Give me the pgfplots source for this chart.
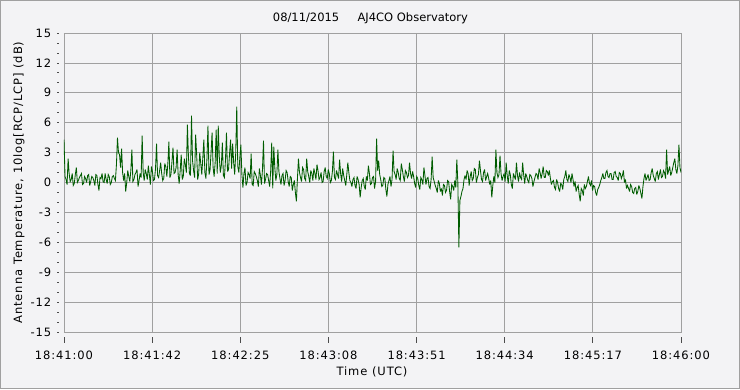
\documentclass[border=0pt]{standalone}
\usepackage{fontspec}
\setmainfont{DejaVu Sans}
\newfontfamily\lsfont{DejaVu Sans}[LetterSpace=8]
\usepackage{pgfplots}
\pgfplotsset{compat=1.18}
\definecolor{bg}{RGB}{243,243,245}
\definecolor{gridc}{RGB}{160,160,160}
\definecolor{dgreen}{RGB}{0,92,0}
\begin{document}
\begin{tikzpicture}
\useasboundingbox (0pt,0pt) rectangle (740pt,389pt);
\fill[bg] (0pt,0pt) rectangle (740pt,389pt);
\draw[gridc, line width=1pt] (0.5pt,0.5pt) rectangle (739.5pt,388.5pt);
\begin{axis}[
  at={(64pt,57pt)}, anchor=south west, scale only axis,
  width=617pt, height=299pt,
  xmin=0, xmax=300, ymin=-15, ymax=15,
  xtick={0,42.857,85.714,128.571,171.429,214.286,257.143,300},
  xticklabels={18:41:00,18:41:42,18:42:25,18:43:08,18:43:51,18:44:34,18:45:17,18:46:00},
  minor x tick num=5,
  ytick={-15,-12,-9,-6,-3,0,3,6,9,12,15},
  yticklabels={-15,-12,-9,-6,-3,0,3,6,9,12,15},
  minor y tick num=2,
  grid=major,
  major grid style={gridc, line width=0.8pt},
  axis line style={gridc, line width=0.8pt},
  xtick pos=left, ytick pos=left, tick align=outside,
  xtick style={black!70, line width=0.8pt, yshift=-5pt},
  ytick style={black!70, line width=0.8pt, xshift=-5pt},
  major x tick style={/pgfplots/major tick length=6pt},
  minor x tick style={/pgfplots/minor tick length=3pt},
  major y tick style={/pgfplots/major tick length=1.5pt},
  minor y tick style={/pgfplots/minor tick length=1.5pt},
  ticklabel style={font=\lsfont\fontsize{11.5}{13}\selectfont, text=black},
  xticklabel style={yshift=-11pt},
  yticklabel style={xshift=-5pt},
]
\addplot[dgreen, line width=0.85pt, mark=none, line join=miter, miter limit=4] table[row sep=\\] {
x y\\
0 4.3\\ 0.5 0.6\\ 1 0.3\\ 1.5 -0.2\\ 2 2.4\\ 2.5 0.9\\ 3 0.1\\ 3.5 0.3\\ 4 0.9\\ 4.5 -0.3\\
5 -0.1\\ 5.5 0.8\\ 6 1.5\\ 6.5 0.0\\ 7 0.2\\ 7.5 0.5\\ 8 0.7\\ 8.5 0.9\\ 9 -0.2\\ 9.5 -0.1\\
10 0.6\\ 10.5 0.4\\ 11 0.0\\ 11.5 0.7\\ 12 0.8\\ 12.5 -0.3\\ 13 0.1\\ 13.5 0.6\\ 14 0.5\\ 14.5 0.2\\
15 -0.3\\ 15.5 0.8\\ 16 0.7\\ 16.5 -0.2\\ 17 -0.8\\ 17.5 0.5\\ 18 0.4\\ 18.5 0.9\\ 19 0.1\\ 19.5 0.0\\
20 0.9\\ 20.5 0.3\\ 21 -0.1\\ 21.5 0.8\\ 22 0.6\\ 22.5 -0.2\\ 23 0.0\\ 23.5 0.6\\ 24 0.7\\ 24.5 0.4\\
25 0.2\\ 25.5 1.8\\ 26 4.5\\ 26.5 3.0\\ 27 2.8\\ 27.5 1.5\\ 28 3.4\\ 28.5 1.0\\ 29 0.2\\ 29.5 0.9\\
30 -0.9\\ 30.5 0.0\\ 31 1.2\\ 31.5 0.6\\ 32 0.1\\ 32.5 1.2\\ 33 3.3\\ 33.5 0.1\\ 34 0.3\\ 34.5 0.8\\
35 1.0\\ 35.5 1.3\\ 36 -0.4\\ 36.5 0.2\\ 37 0.9\\ 37.5 0.5\\ 38 4.7\\ 38.5 1.0\\ 39 0.2\\ 39.5 1.3\\
40 0.9\\ 40.5 0.3\\ 41 1.7\\ 41.5 0.8\\ 42 -0.2\\ 42.5 1.6\\ 43 1.1\\ 43.5 0.2\\ 44 0.3\\ 44.5 1.4\\
45 3.9\\ 45.5 0.7\\ 46 0.5\\ 46.5 1.2\\ 47 2.0\\ 47.5 0.9\\ 48 0.2\\ 48.5 0.4\\ 49 1.9\\ 49.5 1.6\\
50 0.6\\ 50.5 1.9\\ 51 4.1\\ 51.5 0.5\\ 52 0.8\\ 52.5 2.1\\ 53 3.5\\ 53.5 0.9\\ 54 1.0\\ 54.5 1.5\\
55 3.3\\ 55.5 0.8\\ 56 -0.1\\ 56.5 1.2\\ 57 2.8\\ 57.5 0.3\\ 58 0.6\\ 58.5 2.4\\ 59 1.8\\ 59.5 1.0\\
60 5.8\\ 60.5 2.6\\ 61 0.9\\ 61.5 0.7\\ 62 6.7\\ 62.5 2.2\\ 63 1.2\\ 63.5 0.5\\ 64 4.8\\ 64.5 2.8\\
65 0.3\\ 65.5 0.9\\ 66 3.0\\ 66.5 1.9\\ 67 0.8\\ 67.5 2.5\\ 68 4.3\\ 68.5 1.0\\ 69 0.4\\ 69.5 2.4\\
70 5.7\\ 70.5 0.8\\ 71 1.2\\ 71.5 3.0\\ 72 5.0\\ 72.5 1.5\\ 73 0.6\\ 73.5 2.0\\ 74 5.3\\ 74.5 0.9\\
75 5.7\\ 75.5 2.6\\ 76 1.0\\ 76.5 1.7\\ 77 4.0\\ 77.5 0.7\\ 78 0.5\\ 78.5 2.2\\ 79 5.0\\ 79.5 1.1\\
80 1.3\\ 80.5 2.9\\ 81 4.3\\ 81.5 1.4\\ 82 3.9\\ 82.5 2.0\\ 83 0.8\\ 83.5 3.0\\ 84 7.6\\ 84.5 1.6\\
85 1.0\\ 85.5 2.5\\ 86 3.8\\ 86.5 0.8\\ 87 -0.5\\ 87.5 0.9\\ 88 1.5\\ 88.5 -0.3\\ 89 0.0\\ 89.5 1.0\\
90 0.8\\ 90.5 0.4\\ 91 2.9\\ 91.5 -0.2\\ 92 -0.3\\ 92.5 1.1\\ 93 0.9\\ 93.5 0.6\\ 94 0.2\\ 94.5 -0.4\\
95 1.4\\ 95.5 0.7\\ 96 -0.2\\ 96.5 1.3\\ 97 4.2\\ 97.5 -0.1\\ 98 0.3\\ 98.5 0.9\\ 99 0.8\\ 99.5 0.2\\
100 -0.4\\ 100.5 1.2\\ 101 4.0\\ 101.5 -0.6\\ 102 3.6\\ 102.5 1.5\\ 103 0.2\\ 103.5 0.8\\ 104 3.3\\ 104.5 1.1\\
105 0.4\\ 105.5 -0.2\\ 106 0.7\\ 106.5 0.9\\ 107 -0.3\\ 107.5 0.2\\ 108 1.2\\ 108.5 1.0\\ 109 0.1\\ 109.5 -0.4\\
110 0.6\\ 110.5 0.5\\ 111 -0.8\\ 111.5 -0.2\\ 112 0.2\\ 112.5 -1.0\\ 113 -1.9\\ 113.5 0.4\\ 114 2.4\\ 114.5 1.0\\
115 0.5\\ 115.5 0.1\\ 116 1.5\\ 116.5 1.3\\ 117 0.4\\ 117.5 0.2\\ 118 2.4\\ 118.5 1.1\\ 119 0.6\\ 119.5 0.0\\
120 1.2\\ 120.5 0.9\\ 121 0.2\\ 121.5 1.4\\ 122 0.9\\ 122.5 0.3\\ 123 1.8\\ 123.5 1.2\\ 124 0.3\\ 124.5 0.5\\
125 1.0\\ 125.5 0.0\\ 126 0.1\\ 126.5 1.1\\ 127 1.5\\ 127.5 0.6\\ 128 0.4\\ 128.5 1.3\\ 129 0.9\\ 129.5 0.0\\
130 0.2\\ 130.5 1.1\\ 131 3.1\\ 131.5 0.5\\ 132 0.3\\ 132.5 1.2\\ 133 0.8\\ 133.5 0.4\\ 134 2.3\\ 134.5 0.9\\
135 0.1\\ 135.5 1.4\\ 136 0.7\\ 136.5 0.2\\ 137 -0.3\\ 137.5 0.8\\ 138 2.0\\ 138.5 1.0\\ 139 0.2\\ 139.5 0.0\\
140 -0.4\\ 140.5 0.3\\ 141 0.5\\ 141.5 -0.3\\ 142 -0.6\\ 142.5 0.6\\ 143 0.3\\ 143.5 -0.2\\ 144 -1.5\\ 144.5 -0.5\\
145 0.2\\ 145.5 0.4\\ 146 -0.4\\ 146.5 -0.7\\ 147 0.6\\ 147.5 0.2\\ 148 1.7\\ 148.5 0.9\\ 149 -0.2\\ 149.5 -0.1\\
150 0.5\\ 150.5 0.6\\ 151 -0.6\\ 151.5 0.1\\ 152 4.4\\ 152.5 1.2\\ 153 2.2\\ 153.5 0.8\\ 154 0.3\\ 154.5 -0.4\\
155 -0.3\\ 155.5 0.5\\ 156 0.4\\ 156.5 -0.7\\ 157 -1.4\\ 157.5 -0.2\\ 158 0.2\\ 158.5 0.6\\ 159 -0.4\\ 159.5 0.3\\
160 3.2\\ 160.5 1.1\\ 161 0.8\\ 161.5 0.3\\ 162 1.4\\ 162.5 1.0\\ 163 0.4\\ 163.5 0.2\\ 164 1.9\\ 164.5 1.3\\
165 0.6\\ 165.5 0.1\\ 166 1.2\\ 166.5 1.0\\ 167 0.5\\ 167.5 0.7\\ 168 2.0\\ 168.5 0.9\\ 169 0.4\\ 169.5 1.1\\
170 0.6\\ 170.5 -0.1\\ 171 -0.5\\ 171.5 0.6\\ 172 0.4\\ 172.5 -0.3\\ 173 -0.7\\ 173.5 0.5\\ 174 0.3\\ 174.5 -0.2\\
175 1.5\\ 175.5 0.7\\ 176 -0.2\\ 176.5 0.4\\ 177 0.5\\ 177.5 -0.4\\ 178 -0.6\\ 178.5 0.3\\ 179 2.6\\ 179.5 0.5\\
180 0.1\\ 180.5 -0.3\\ 181 -0.6\\ 181.5 -1.0\\ 182 0.2\\ 182.5 -0.1\\ 183 -0.9\\ 183.5 -0.6\\ 184 -1.3\\ 184.5 -0.2\\
185 -0.3\\ 185.5 -1.0\\ 186 -0.8\\ 186.5 0.2\\ 187 0.1\\ 187.5 -0.9\\ 188 -1.7\\ 188.5 -0.2\\ 189 -0.4\\ 189.5 -0.8\\
190 0.2\\ 190.5 -0.5\\ 191 2.3\\ 191.5 0.0\\ 192 -6.5\\ 192.5 -1.8\\ 193 -1.4\\ 193.5 -0.9\\ 194 -0.6\\ 194.5 0.3\\
195 0.7\\ 195.5 0.3\\ 196 1.2\\ 196.5 0.9\\ 197 -0.3\\ 197.5 0.6\\ 198 1.1\\ 198.5 0.2\\ 199 0.4\\ 199.5 1.4\\
200 1.3\\ 200.5 0.0\\ 201 0.5\\ 201.5 0.8\\ 202 2.2\\ 202.5 1.2\\ 203 0.3\\ 203.5 0.1\\ 204 1.0\\ 204.5 1.3\\
205 0.2\\ 205.5 0.6\\ 206 0.9\\ 206.5 0.4\\ 207 -0.2\\ 207.5 0.2\\ 208 -1.5\\ 208.5 -0.3\\ 209 0.6\\ 209.5 0.0\\
210 3.3\\ 210.5 1.0\\ 211 0.5\\ 211.5 0.8\\ 212 2.7\\ 212.5 0.9\\ 213 0.2\\ 213.5 0.6\\ 214 0.9\\ 214.5 0.1\\
215 2.0\\ 215.5 0.7\\ 216 -0.1\\ 216.5 1.2\\ 217 0.8\\ 217.5 -0.2\\ 218 -0.6\\ 218.5 0.9\\ 219 0.6\\ 219.5 0.3\\
220 2.0\\ 220.5 0.7\\ 221 0.1\\ 221.5 1.0\\ 222 0.5\\ 222.5 0.3\\ 223 2.0\\ 223.5 0.8\\ 224 -0.1\\ 224.5 0.9\\
225 0.6\\ 225.5 0.2\\ 226 0.0\\ 226.5 0.8\\ 227 0.7\\ 227.5 0.4\\ 228 -0.4\\ 228.5 0.1\\ 229 0.5\\ 229.5 0.9\\
230 0.8\\ 230.5 0.3\\ 231 1.4\\ 231.5 1.0\\ 232 0.4\\ 232.5 0.9\\ 233 1.6\\ 233.5 0.5\\ 234 0.5\\ 234.5 1.2\\
235 1.1\\ 235.5 0.7\\ 236 1.2\\ 236.5 0.4\\ 237 -0.2\\ 237.5 0.1\\ 238 0.2\\ 238.5 -0.5\\ 239 -0.7\\ 239.5 0.3\\
240 0.0\\ 240.5 -0.6\\ 241 -0.9\\ 241.5 -0.1\\ 242 -0.2\\ 242.5 -0.7\\ 243 0.3\\ 243.5 0.6\\ 244 1.2\\ 244.5 0.3\\
245 0.1\\ 245.5 0.8\\ 246 0.5\\ 246.5 0.0\\ 247 0.9\\ 247.5 0.3\\ 248 -0.4\\ 248.5 0.1\\ 249 -0.9\\ 249.5 -0.5\\
250 -0.3\\ 250.5 -1.2\\ 251 -1.9\\ 251.5 -0.6\\ 252 -0.8\\ 252.5 -1.3\\ 253 -0.2\\ 253.5 -0.6\\ 254 -0.4\\ 254.5 0.1\\
255 0.6\\ 255.5 -0.1\\ 256 -0.3\\ 256.5 0.2\\ 257 -0.8\\ 257.5 -0.3\\ 258 -0.4\\ 258.5 -1.0\\ 259 -1.3\\ 259.5 -0.7\\
260 -0.5\\ 260.5 -0.2\\ 261 0.2\\ 261.5 0.5\\ 262 0.9\\ 262.5 0.4\\ 263 0.4\\ 263.5 1.0\\ 264 1.2\\ 264.5 0.6\\
265 0.5\\ 265.5 0.9\\ 266 0.9\\ 266.5 0.3\\ 267 0.3\\ 267.5 1.0\\ 268 1.1\\ 268.5 0.6\\ 269 0.5\\ 269.5 0.2\\
270 1.0\\ 270.5 0.9\\ 271 0.4\\ 271.5 0.7\\ 272 1.2\\ 272.5 0.0\\ 273 0.3\\ 273.5 -0.6\\ 274 -0.3\\ 274.5 -0.6\\
275 -0.9\\ 275.5 -0.2\\ 276 -0.4\\ 276.5 -1.0\\ 277 -1.1\\ 277.5 -0.6\\ 278 -0.5\\ 278.5 -1.2\\ 279 -0.9\\ 279.5 -0.3\\
280 -0.6\\ 280.5 -1.1\\ 281 -1.6\\ 281.5 -0.4\\ 282 0.4\\ 282.5 0.9\\ 283 0.2\\ 283.5 0.5\\ 284 0.8\\ 284.5 0.2\\
285 0.3\\ 285.5 1.0\\ 286 1.4\\ 286.5 0.7\\ 287 0.4\\ 287.5 0.1\\ 288 0.9\\ 288.5 1.1\\ 289 0.3\\ 289.5 0.8\\
290 1.3\\ 290.5 0.5\\ 291 0.6\\ 291.5 1.2\\ 292 1.0\\ 292.5 0.4\\ 293 3.3\\ 293.5 0.8\\ 294 1.2\\ 294.5 1.6\\
295 0.7\\ 295.5 1.0\\ 296 1.5\\ 296.5 2.0\\ 297 2.4\\ 297.5 1.3\\ 298 0.9\\ 298.5 1.7\\ 299 3.8\\ 299.5 1.5\\
300 1.0\\
};
\end{axis}
\node[font=\fontsize{11.5}{13}\selectfont] at (370.5pt,371pt) {08/11/2015\hspace{1.6em}AJ4CO Observatory};
\node[font=\lsfont\fontsize{11.5}{13}\selectfont] at (372pt,17pt) {Time (UTC)};
\node[font=\lsfont\fontsize{11.5}{13}\selectfont, rotate=90] at (19pt,206.5pt) {Antenna Temperature, 10log[RCP/LCP] (dB)};
\end{tikzpicture}
\end{document}
